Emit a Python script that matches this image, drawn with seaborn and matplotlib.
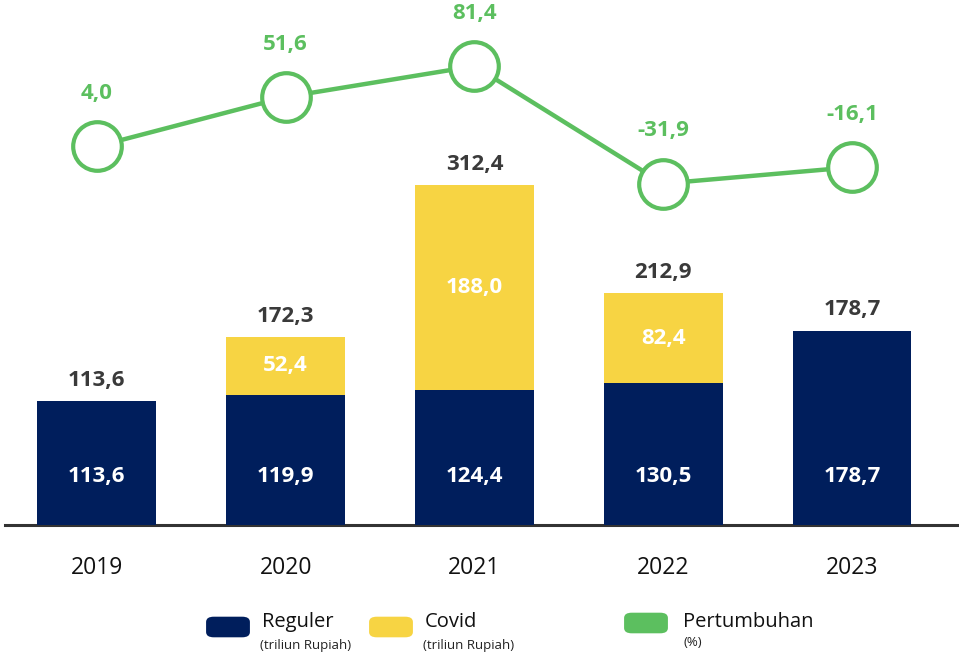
import matplotlib
matplotlib.use("Agg")
import matplotlib.pyplot as plt
from matplotlib.patches import FancyBboxPatch
import seaborn as sns
import pandas as pd

# ---- data ----
years = ["2019", "2020", "2021", "2022", "2023"]
reguler = [113.6, 119.9, 124.4, 130.5, 178.7]
covid = [0.0, 52.4, 188.0, 82.4, 0.0]
totals = [113.6, 172.3, 312.4, 212.9, 178.7]
growth = [4.0, 51.6, 81.4, -31.9, -16.1]

NAVY = "#001e5c"
YELLOW = "#f7d443"
GREEN = "#5cbf5f"
DARK = "#3a3a3a"

sns.set_theme(style="white")
plt.rcParams["font.family"] = ["Open Sans", "DejaVu Sans"]

def fmt(v):
    return f"{v:.1f}".replace(".", ",")

df = pd.DataFrame({"year": years, "reguler": reguler, "covid": covid,
                   "total": totals, "growth": growth, "pos": range(len(years))})

fig = plt.figure(figsize=(9.59, 6.54), dpi=100)
ax = fig.add_axes([5 / 959, 1 - 525 / 654, 954 / 959, 515 / 654])

bw = 0.63
sns.barplot(data=df, x="year", y="total", color=YELLOW, width=bw, ax=ax,
            saturation=1, zorder=2, linewidth=0)
sns.barplot(data=df, x="year", y="reguler", color=NAVY, width=bw, ax=ax,
            saturation=1, zorder=3, linewidth=0)

ax.set_xlim(-0.487, 4.567)
ax.set_ylim(0, 473.2)
ax.set_xlabel("")
ax.set_ylabel("")
ax.set_yticks([])
for s in ["top", "right", "left"]:
    ax.spines[s].set_visible(False)
ax.spines["bottom"].set_color("#333333")
ax.spines["bottom"].set_linewidth(2.2)
ax.tick_params(axis="x", length=0, pad=22, labelsize=16.5, labelcolor="#111111")

# labels inside regular bars
for i, v in enumerate(reguler):
    ax.text(i, 45, fmt(v), ha="center", va="center", color="white",
            fontsize=16, fontweight="bold", zorder=5)
# covid labels
for i, (r, c) in enumerate(zip(reguler, covid)):
    if c > 0:
        ax.text(i, r + c / 2, fmt(c), ha="center", va="center", color="white",
                fontsize=16, fontweight="bold", zorder=5)
# totals
for i, t in enumerate(totals):
    ax.annotate(fmt(t), (i, t), xytext=(0, 15), textcoords="offset points",
                ha="center", va="center", color=DARK, fontsize=16,
                fontweight="bold", zorder=5)

# growth line on twin axis
ax2 = ax.twinx()
sns.lineplot(data=df, x="pos", y="growth", ax=ax2, color=GREEN, linewidth=3.2,
             marker="o", markersize=35, markerfacecolor="white",
             markeredgecolor=GREEN, markeredgewidth=3, zorder=6)
ax2.set_ylim(-361.1, 135.5)
ax2.set_xlim(-0.487, 4.567)
ax2.set_yticks([])
ax2.set_ylabel("")
ax2.set_xlabel("")
for s in ["top", "right", "left", "bottom"]:
    ax2.spines[s].set_visible(False)
for i, g in enumerate(growth):
    ax2.annotate(fmt(g), (i, g), xytext=(0, 38), textcoords="offset points",
                 ha="center", va="center", color=GREEN, fontsize=16,
                 fontweight="bold")

# legend
def leg_patch(x, y, color):
    p = FancyBboxPatch((x / 959, 1 - (y + 10) / 654), 40 / 959, 18 / 654,
                       boxstyle="round,pad=0.002,rounding_size=0.008",
                       transform=fig.transFigure, facecolor=color,
                       edgecolor="none")
    fig.patches.append(p)

leg_patch(208, 626, NAVY)
fig.text(262 / 959, 1 - 622 / 654, "Reguler", fontsize=14.5, va="center",
         ha="left", color="#111111")
fig.text(260 / 959, 1 - 645 / 654, "(triliun Rupiah)", fontsize=9.5,
         va="center", ha="left", color="#222222")

leg_patch(371, 626, YELLOW)
fig.text(425 / 959, 1 - 622 / 654, "Covid", fontsize=14.5, va="center",
         ha="left", color="#111111")
fig.text(423 / 959, 1 - 645 / 654, "(triliun Rupiah)", fontsize=9.5,
         va="center", ha="left", color="#222222")

leg_patch(626, 622, GREEN)
fig.text(683 / 959, 1 - 622 / 654, "Pertumbuhan", fontsize=14.5, va="center",
         ha="left", color="#111111")
fig.text(683 / 959, 1 - 642 / 654, "(%)", fontsize=9.5, va="center",
         ha="left", color="#222222")

fig.savefig("out.png", dpi=100, facecolor="white")
